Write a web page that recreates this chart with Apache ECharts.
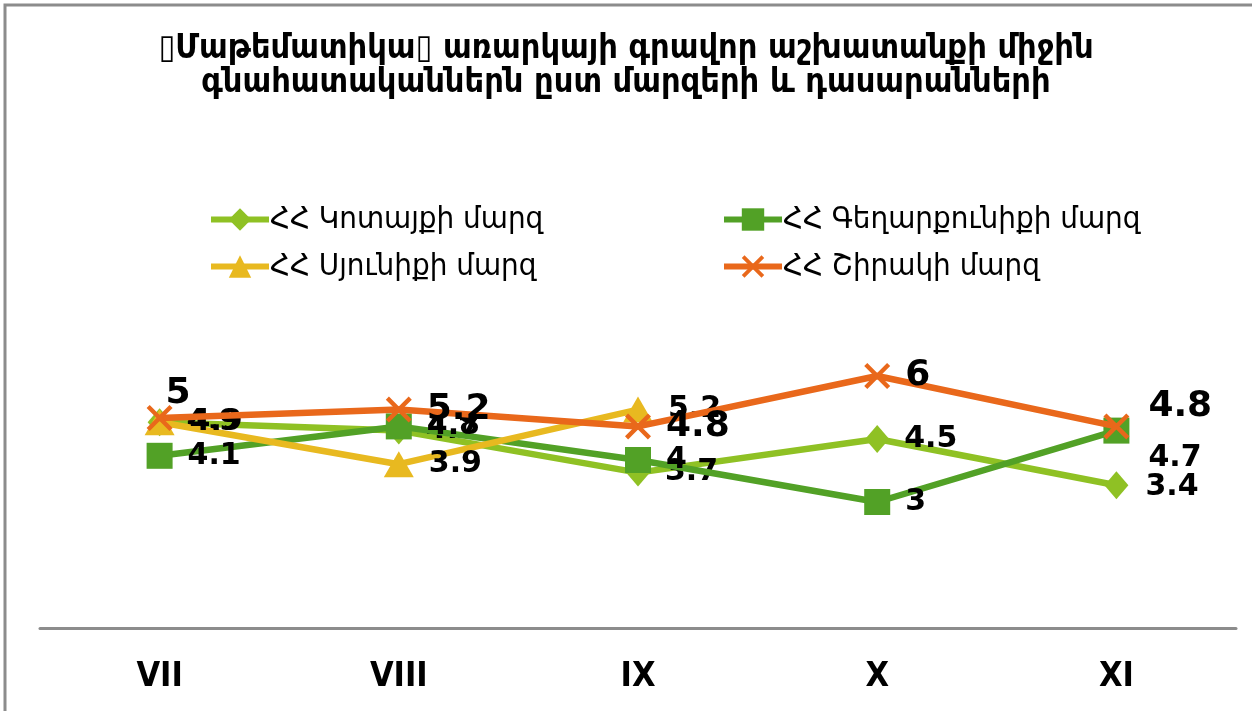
<!DOCTYPE html>
<html>
<head>
<meta charset="utf-8">
<script src="https://cdn.jsdelivr.net/npm/echarts@6/dist/echarts.min.js"></script>
<style>
  html, body { margin: 0; padding: 0; background: #fff; }
  #main { width: 1252px; height: 711px; }
</style>
</head>
<body>
<div id="main"></div>
<script>
const categories = ['VII', 'VIII', 'IX', 'X', 'XI']

const seriesNames = [
  'ՀՀ Կոտայքի մարզ',
  'ՀՀ Գեղարքունիքի մարզ',
  'ՀՀ Սյունիքի մարզ',
  'ՀՀ Շիրակի մարզ'
]

const kotayk = [4.9, 4.7, 3.7, 4.5, 3.4]
const gegharkunik = [4.1, 4.8, 4, 3, 4.7]
const syunik = [4.9, 3.9, 5.2, null, null]
const shirak = [5, 5.2, 4.8, 6, 4.8]

const titleText = '\u25AFՄաթեմատիկա\u25AF առարկայի գրավոր աշխատանքի միջին\nգնահատականներն ըստ մարզերի և դասարանների'

const crossPath = 'path://M0,1.2L1.2,0L10,8.8L8.8,10Z M8.8,0L10,1.2L1.2,10L0,8.8Z'

// a few labels sit off their usual place in the original
const labelShift = {
  '3-0': [-22, -24],
  '3-4': [4, -20],
  '1-4': [4, 28],
  '0-4': [2, 2]
}

function makeData (values, si) {
  return values.map((v, i) => {
    const shift = labelShift[si + '-' + i]
    if (!shift) return v
    return { value: v, label: { offset: shift } }
  })
}

function lineSeries (name, values, si, color, symbol, symbolSize, labelSize) {
  return {
    name: name,
    type: 'line',
    data: makeData(values, si),
    symbol: symbol,
    symbolSize: symbolSize,
    showAllSymbol: true,
    color: color,
    lineStyle: { color: color, width: 6.5 },
    itemStyle: { color: color },
    label: {
      show: true,
      position: 'right',
      distance: 15,
      color: '#000',
      fontFamily: 'DejaVu Sans',
      fontWeight: 'bold',
      fontSize: labelSize
    },
    emphasis: { disabled: true },
    z: 2 + si
  }
}

const legendBase = {
  orient: 'vertical',
  top: 199,
  itemWidth: 58,
  itemHeight: 28,
  itemGap: 16,
  lineStyle: { width: 6 },
  textStyle: {
    fontFamily: 'DejaVu Sans Condensed',
    fontSize: 31,
    color: '#000',
    padding: [0, 0, 0, -4]
  }
}

const myChart = echarts.init(document.getElementById('main'))

myChart.setOption({
  backgroundColor: '#fff',
  animation: false,
  title: {
    text: titleText,
    left: 'center',
    top: 27,
    textStyle: {
      fontFamily: 'DejaVu Sans Condensed',
      fontWeight: 'bold',
      fontSize: 34,
      lineHeight: 34,
      color: '#000'
    }
  },
  legend: [
    Object.assign({}, legendBase, { data: [seriesNames[0], seriesNames[2]], left: 203 }),
    Object.assign({}, legendBase, { data: [seriesNames[1], seriesNames[3]], left: 716 })
  ],
  grid: {
    left: 40,
    right: 16,
    top: 208,
    bottom: 83
  },
  xAxis: {
    type: 'category',
    data: categories,
    boundaryGap: true,
    axisLine: { lineStyle: { color: '#8c8c8c', width: 3 } },
    axisTick: { show: false },
    axisLabel: {
      margin: 32,
      color: '#000',
      fontFamily: 'DejaVu Sans Condensed',
      fontWeight: 'bold',
      fontSize: 34
    },
    splitLine: { show: false }
  },
  yAxis: {
    type: 'value',
    min: 0,
    max: 10,
    show: false,
    splitLine: { show: false }
  },
  graphic: [
    {
      type: 'polyline',
      shape: { points: [[5, 711], [5, 5], [1252, 5]] },
      style: { stroke: '#8c8c8c', lineWidth: 3, fill: null }
    }
  ],
  series: [
    lineSeries(seriesNames[0], kotayk, 0, '#8fc124', 'diamond', [24, 28], 30),
    lineSeries(seriesNames[1], gegharkunik, 1, '#52a126', 'rect', 26, 30),
    lineSeries(seriesNames[2], syunik, 2, '#e8b920', 'triangle', [30, 26], 30),
    lineSeries(seriesNames[3], shirak, 3, '#e9681b', crossPath, 26, 36)
  ]
})
</script>
</body>
</html>
